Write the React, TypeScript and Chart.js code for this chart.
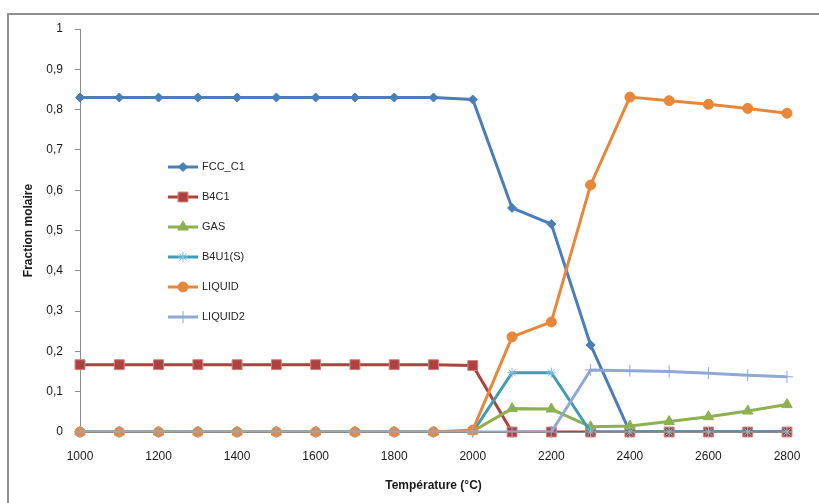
import React, { useEffect, useRef } from "react";
import { Chart, registerables } from "chart.js";
import { drawPoint } from "chart.js/helpers";

Chart.register(...registerables);

const temperatures = [1000, 1100, 1200, 1300, 1400, 1500, 1600, 1700, 1800, 1900, 2000, 2100, 2200, 2300, 2400, 2500, 2600, 2700, 2800];

const fccC1 = [0.83, 0.83, 0.83, 0.83, 0.83, 0.83, 0.83, 0.83, 0.83, 0.83, 0.825, 0.556, 0.516, 0.216, 0, 0, 0, 0, 0];
const b4c1 = [0.167, 0.167, 0.167, 0.167, 0.167, 0.167, 0.167, 0.167, 0.167, 0.167, 0.165, 0, 0, 0, 0, 0, 0, 0, 0];
const gas = [0, 0, 0, 0, 0, 0, 0, 0, 0, 0, 0.002, 0.058, 0.057, 0.013, 0.015, 0.026, 0.038, 0.052, 0.068];
const b4u1s = [0, 0, 0, 0, 0, 0, 0, 0, 0, 0, 0, 0.147, 0.147, 0, 0, 0, 0, 0, 0];
const liquid = [0, 0, 0, 0, 0, 0, 0, 0, 0, 0, 0.005, 0.236, 0.273, 0.613, 0.831, 0.822, 0.813, 0.803, 0.791];
const liquid2 = [0, 0, 0, 0, 0, 0, 0, 0, 0, 0, 0, 0, 0, 0.154, 0.152, 0.15, 0.146, 0.141, 0.137];

const seriesNames = ["FCC_C1", "B4C1", "GAS", "B4U1(S)", "LIQUID", "LIQUID2"];
const seriesValues = [fccC1, b4c1, gas, b4u1s, liquid, liquid2];

const yTickLabels = ["0", "0,1", "0,2", "0,3", "0,4", "0,5", "0,6", "0,7", "0,8", "0,9", "1"];
const xTitle = "Température (°C)";
const yTitle = "Fraction molaire";

const styles = [
  { color: "#4A7EBB", marker: "rectRot", radius: 4.5, mBorder: 1, mFill: "#4A7EBB", mStroke: "#4A7EBB", lw: 3 },
  { color: "#B0413E", marker: "rect", radius: 7, mBorder: 1, mFill: "#B0413E", mStroke: "#C98583", lw: 3 },
  { color: "#8EB04F", marker: "triangle", radius: 6, mBorder: 1, mFill: "#8EB04F", mStroke: "#8EB04F", lw: 3 },
  { color: "#3C9DB5", marker: "star", radius: 5, mBorder: 1, mFill: "#7CC3D6", mStroke: "#7CC3D6", lw: 3 },
  { color: "#E8873A", marker: "circle", radius: 5, mBorder: 1, mFill: "#E8873A", mStroke: "#E8873A", lw: 3 },
  { color: "#8FA8D6", marker: "cross", radius: 6, mBorder: 1, mFill: "#8FA8D6", mStroke: "#8FA8D6", lw: 3 },
];

const FONT = "'Liberation Sans', Arial, sans-serif";

const legendPlugin = {
  id: "customLegend",
  afterDraw(chart: any) {
    const ctx = chart.ctx;
    ctx.save();
    const x0 = 168;
    const x1 = 198;
    const yStart = 167;
    const step = 30;
    seriesNames.forEach((name, i) => {
      const s = styles[i];
      const y = yStart + i * step;
      ctx.strokeStyle = s.color;
      ctx.lineWidth = s.lw;
      ctx.beginPath();
      ctx.moveTo(x0, y);
      ctx.lineTo(x1, y);
      ctx.stroke();
      ctx.fillStyle = s.mFill;
      ctx.strokeStyle = s.mStroke;
      ctx.lineWidth = s.mBorder;
      drawPoint(ctx, { pointStyle: s.marker, radius: s.radius, rotation: 0, borderWidth: s.mBorder } as any, (x0 + x1) / 2, y);
      ctx.fillStyle = "#262626";
      ctx.font = `11px ${FONT}`;
      ctx.textBaseline = "middle";
      ctx.textAlign = "left";
      ctx.fillText(name, 202, y);
    });
    ctx.restore();
  },
};

export default function App() {
  const ref = useRef<HTMLCanvasElement | null>(null);

  useEffect(() => {
    if (!ref.current) return;
    const datasets: any[] = [];
    seriesNames.forEach((name, i) => {
      const s = styles[i];
      const pts = temperatures.map((t, k) => ({ x: t, y: seriesValues[i][k] }));
      datasets.push({
        label: name,
        data: pts,
        borderColor: s.color,
        backgroundColor: s.color,
        borderWidth: s.lw,
        pointRadius: 0,
        tension: 0,
        order: 2 * (5 - i) + 1,
        clip: { left: false, top: false, right: false, bottom: 0 },
      });
      datasets.push({
        label: name + " markers",
        data: pts,
        showLine: false,
        pointStyle: s.marker,
        pointRadius: s.radius,
        pointBorderWidth: s.mBorder,
        pointBackgroundColor: s.mFill,
        pointBorderColor: s.mStroke,
        order: 2 * (5 - i),
        clip: false,
      });
    });

    const chart = new Chart(ref.current, {
      type: "line",
      data: { datasets },
      options: {
        animation: false,
        responsive: false,
        layout: { padding: { left: 0, top: 29, right: 32, bottom: 0 } },
        plugins: { legend: { display: false }, tooltip: { enabled: false } },
        scales: {
          x: {
            type: "linear",
            min: 1000,
            max: 2800,
            afterFit: (scale: any) => {
              scale.height = 71;
            },
            ticks: {
              stepSize: 200,
              padding: 17,
              color: "#1a1a1a",
              font: { family: FONT, size: 12 },
              callback: (v: any) => String(v),
            },
            grid: { display: false, drawTicks: false },
            border: { display: true, color: "#8C8C8C", width: 1 },
            title: {
              display: true,
              text: xTitle,
              color: "#1a1a1a",
              font: { family: FONT, size: 12, weight: "bold" },
              padding: { top: 0, bottom: 10 },
            },
          },
          y: {
            type: "linear",
            min: 0,
            max: 1,
            afterFit: (scale: any) => {
              scale.width = 80;
            },
            ticks: {
              stepSize: 0.1,
              padding: 12,
              color: "#1a1a1a",
              font: { family: FONT, size: 12 },
              callback: (_v: any, idx: number) => yTickLabels[idx],
            },
            grid: { drawOnChartArea: false, drawTicks: true, tickLength: 5, color: "#8C8C8C" },
            border: { display: true, color: "#8C8C8C", width: 1 },
            title: {
              display: true,
              text: yTitle,
              color: "#1a1a1a",
              font: { family: FONT, size: 12, weight: "bold" },
              padding: { top: 21, bottom: 0 },
            },
          },
        },
      },
      plugins: [legendPlugin],
    } as any);
    return () => chart.destroy();
  }, []);

  return (
    <div style={{ position: "absolute", left: 0, top: 0, width: 819, height: 503, overflow: "hidden", background: "#fff" }}>
      <div
        style={{
          position: "absolute",
          left: 7,
          top: 13,
          width: 900,
          height: 600,
          borderLeft: "2px solid #8E8E8E",
          borderTop: "2px solid #8E8E8E",
        }}
      />
      <canvas ref={ref} width={819} height={503} style={{ position: "absolute", left: 0, top: 0, width: 819, height: 503 }} />
    </div>
  );
}
